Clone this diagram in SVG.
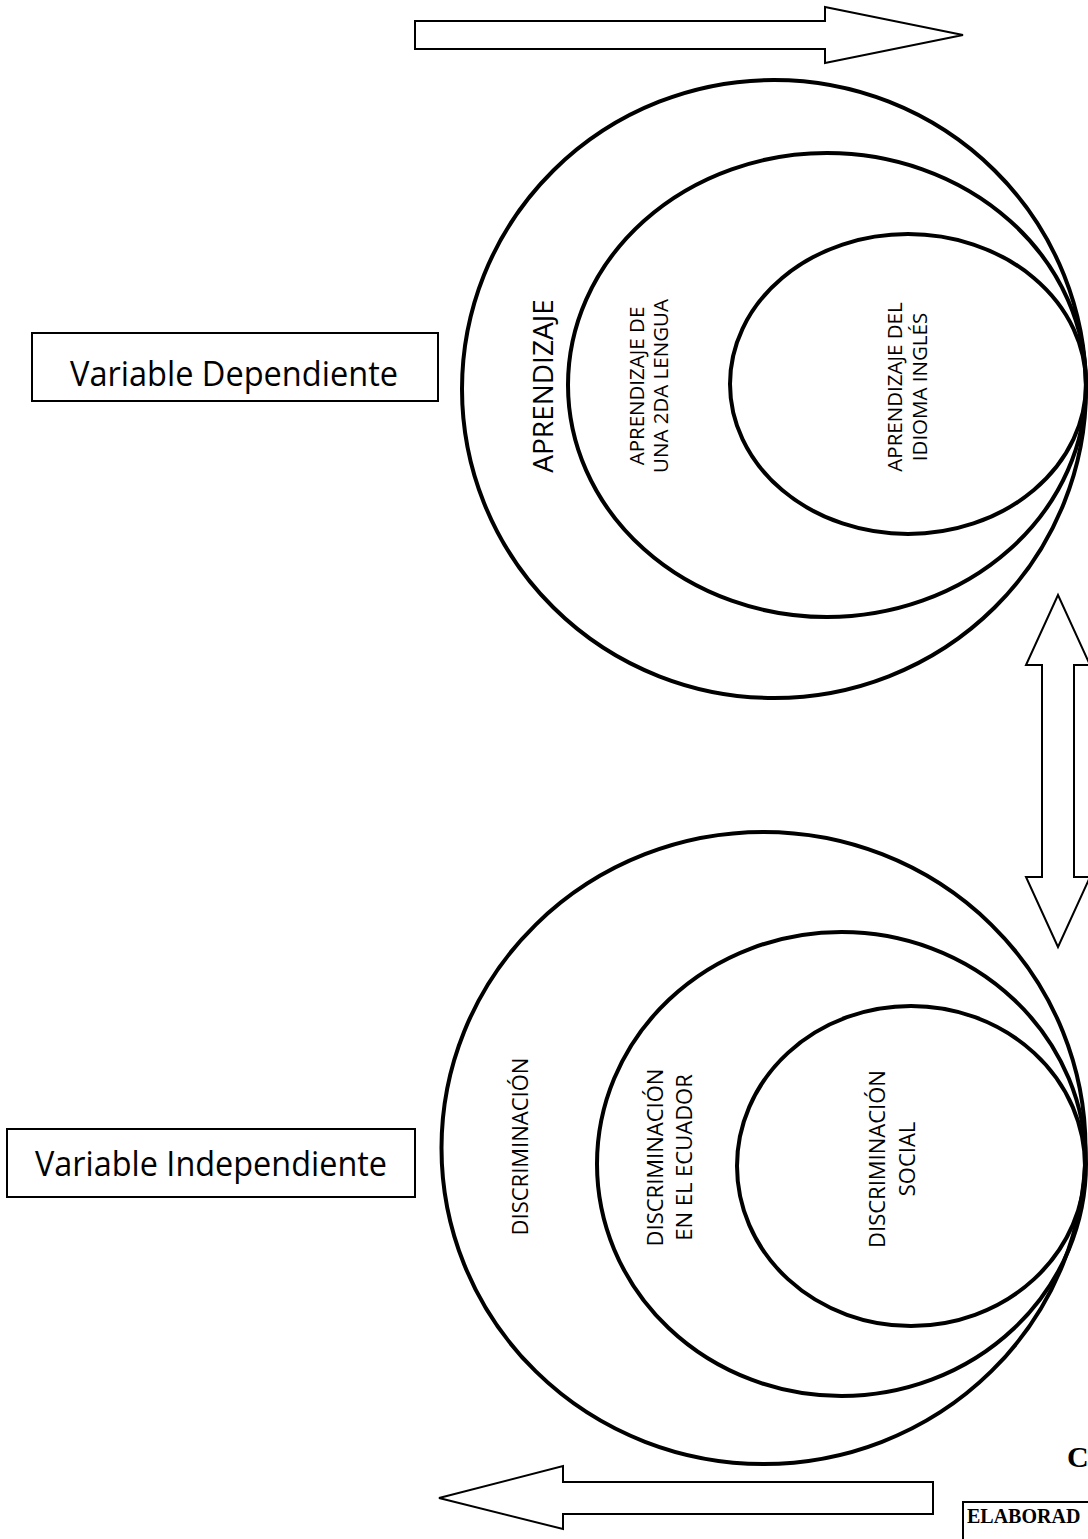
<svg xmlns="http://www.w3.org/2000/svg" width="1088" height="1539" viewBox="0 0 1088 1539">
  <style>
    .ring { fill: none; stroke: #000; stroke-width: 4; }
    .arrow { fill: #fff; stroke: #000; stroke-width: 2; stroke-linejoin: miter; }
    .box { fill: #fff; stroke: #000; stroke-width: 2; }
    .lbl { font-family: "Open Sans", "DejaVu Sans", sans-serif; fill: #000; }
    .ser { font-family: "Liberation Serif", "Times New Roman", serif; font-weight: bold; fill: #000; }
  </style>
  <rect width="1088" height="1539" fill="#fff"/>

  <g id="connectors">
    <polygon class="arrow" points="415,21 825,21 825,7 963,35 825,63 825,49 415,49"/>
    <polygon class="arrow" points="1058,595 1090,665 1074,665 1074,877 1090,877 1058,947 1026,877 1042,877 1042,665 1026,665"/>
    <polygon class="arrow" points="933,1482 563,1482 563,1466 439,1498 563,1529 563,1514 933,1514"/>
  </g>

  <g id="dep-outer">
    <ellipse class="ring" cx="774" cy="389" rx="312" ry="309"/>
    <text class="lbl" font-size="28" text-anchor="middle" transform="translate(553,386) rotate(-90)">APRENDIZAJE</text>
  </g>
  <g id="dep-middle">
    <ellipse class="ring" cx="827" cy="385" rx="259" ry="232"/>
    <text class="lbl" font-size="20.5" text-anchor="middle" transform="translate(644,386) rotate(-90)">APRENDIZAJE DE<tspan x="0" dy="24">UNA 2DA LENGUA</tspan></text>
  </g>
  <g id="dep-inner">
    <ellipse class="ring" cx="908" cy="384" rx="178" ry="150"/>
    <text class="lbl" font-size="20.5" text-anchor="middle" transform="translate(902,387) rotate(-90)">APRENDIZAJE DEL<tspan x="0" dy="25">IDIOMA INGLÉS</tspan></text>
  </g>

  <g id="ind-outer">
    <ellipse class="ring" cx="763.5" cy="1148" rx="322" ry="316"/>
    <text class="lbl" font-size="22" text-anchor="middle" transform="translate(528,1146.5) rotate(-90)">DISCRIMINACIÓN</text>
  </g>
  <g id="ind-middle">
    <ellipse class="ring" cx="841.5" cy="1164" rx="244.5" ry="232"/>
    <text class="lbl" font-size="22" text-anchor="middle" transform="translate(663,1157.5) rotate(-90)">DISCRIMINACIÓN<tspan x="0" dy="29">EN EL ECUADOR</tspan></text>
  </g>
  <g id="ind-inner">
    <ellipse class="ring" cx="911" cy="1166" rx="174" ry="160"/>
    <text class="lbl" font-size="22" text-anchor="middle" transform="translate(885,1159) rotate(-90)">DISCRIMINACIÓN<tspan x="0" dy="30">SOCIAL</tspan></text>
  </g>

  <g id="label-dependiente">
    <rect class="box" x="32" y="333" width="406" height="68"/>
    <text class="lbl" font-size="35" x="70" y="386" textLength="328" lengthAdjust="spacingAndGlyphs">Variable Dependiente</text>
  </g>
  <g id="label-independiente">
    <rect class="box" x="7" y="1129" width="408" height="68"/>
    <text class="lbl" font-size="35" x="35" y="1176" textLength="352" lengthAdjust="spacingAndGlyphs">Variable Independiente</text>
  </g>

  <g id="caption">
    <text class="ser" font-size="30" x="1067" y="1467">C</text>
  </g>
  <g id="credit">
    <rect class="box" x="963" y="1502" width="140" height="60"/>
    <text class="ser" font-size="20" x="967" y="1523">ELABORAD</text>
  </g>
</svg>
